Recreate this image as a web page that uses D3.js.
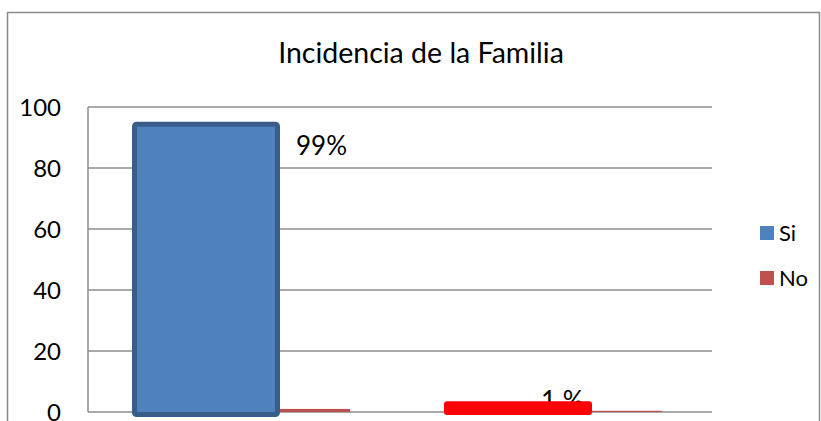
<!DOCTYPE html>
<html>
<head>
<meta charset="utf-8">
<script src="https://cdn.jsdelivr.net/npm/d3@7"></script>
<style>
  body { margin: 0; background: #fff; }
  text { font-family: Lato, "Open Sans", sans-serif; fill: #000; }
</style>
</head>
<body>
<svg id="chart"></svg>
<script>
// chart data
const categories = ["1", "2"];
const series = ["Si", "No"];
const siValues = [95.2, 3.5];
const noValues = [1, 0.4];
const pctLabels = ["99%", "1 %"];
const yTicks = [0, 20, 40, 60, 80, 100];

const W = 821, H = 421;
const margin = { top: 107, right: 109, bottom: 9, left: 88 },
    width = W - margin.left - margin.right,
    height = H - margin.top - margin.bottom;

const svg = d3.select("#chart")
    .attr("width", W)
    .attr("height", H);

// outer frame of the chart
svg.append("rect")
    .attr("x", 7.5).attr("y", 12.5)
    .attr("width", 812).attr("height", 430)
    .attr("fill", "none")
    .attr("stroke", "#8a8a8a")
    .attr("stroke-width", 1.5);

svg.append("text")
    .attr("x", 421)
    .attr("y", 63)
    .attr("text-anchor", "middle")
    .style("font-size", "28.5px")
    .text("Incidencia de la Familia");

const g = svg.append("g")
    .attr("transform", `translate(${margin.left},${margin.top})`);

const y = d3.scaleLinear().domain([0, 100]).range([height, 0]);
const x0 = d3.scaleBand().domain(categories).range([0, width]);
const x1 = d3.scaleBand().domain(series).range([44, 44 + 296]);

// gridlines
g.selectAll(".grid")
    .data(yTicks)
    .enter()
    .append("line")
    .attr("x1", 0).attr("x2", width)
    .attr("y1", d => y(d)).attr("y2", d => y(d))
    .attr("stroke", "#8c8c8c")
    .attr("stroke-width", 1.5);

g.append("line")
    .attr("x1", 0).attr("x2", 0)
    .attr("y1", y(100)).attr("y2", y(0))
    .attr("stroke", "#8c8c8c")
    .attr("stroke-width", 1.5);

const yAxis = g.append("g")
    .call(d3.axisLeft(y).tickValues(yTicks).tickSize(0).tickPadding(27));
yAxis.select(".domain").remove();
yAxis.selectAll("text")
    .style("font-size", "24px")
    .style("font-family", "Lato, sans-serif")
    .attr("dy", "0.36em");

// "No" bars (thin)
g.selectAll(".no")
    .data(noValues)
    .enter()
    .append("rect")
    .attr("x", (d, i) => x0(categories[i]) + x1("No"))
    .attr("y", d => y(d))
    .attr("width", 70)
    .attr("height", d => y(0) - y(d))
    .attr("fill", "#c0504d");

// "Si" bars: first one with dark blue border, second one recoloured bright red
g.append("rect")
    .attr("x", x0(categories[0]) + x1("Si") + 2.5)
    .attr("y", y(siValues[0]) + 2.5)
    .attr("width", x1.bandwidth() - 5)
    .attr("height", y(0) - y(siValues[0]))
    .attr("fill", "#4f81bd")
    .attr("stroke", "#385d8a")
    .attr("stroke-width", 5)
    .attr("rx", 2);

// data labels
g.append("text")
    .attr("x", x0(categories[0]) + x1("Si") + x1.bandwidth() + 16)
    .attr("y", y(siValues[0]) + 33)
    .style("font-size", "26px")
    .text(pctLabels[0]);

g.append("text")
    .attr("x", x0(categories[1]) + x1("Si") + 97)
    .attr("y", y(siValues[1]) + 9)
    .style("font-size", "26px")
    .text(pctLabels[1]);

g.append("rect")
    .attr("x", x0(categories[1]) + x1("Si"))
    .attr("y", y(siValues[1]))
    .attr("width", x1.bandwidth())
    .attr("height", y(0) - y(siValues[1]) + 3)
    .attr("fill", "#ff0000")
    .attr("rx", 3);

// legend
const legendColors = ["#4f81bd", "#c0504d"];
const legend = svg.selectAll(".legend")
    .data(series)
    .enter()
    .append("g")
    .attr("transform", (d, i) => `translate(760,${226 + i * 45})`);
legend.append("rect")
    .attr("width", 14).attr("height", 14)
    .attr("fill", (d, i) => legendColors[i]);
legend.append("text")
    .attr("x", 19).attr("y", 15)
    .style("font-size", "22px")
    .text(d => d);
</script>
</body>
</html>
